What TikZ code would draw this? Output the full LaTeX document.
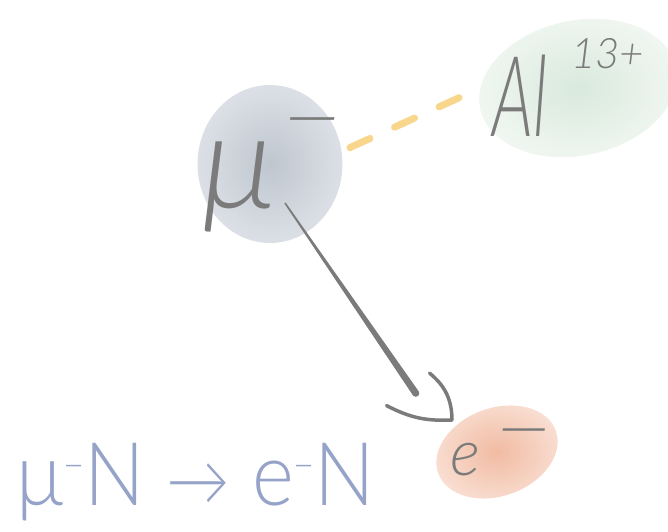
\documentclass[tikz,border=0pt]{standalone}
\usepackage{fontspec}
\setmainfont{Lato Light}
\newfontfamily\handfont{Lato Light}
\usetikzlibrary{shapes.geometric,calc}

\definecolor{mugrey}{HTML}{BFC6CF}
\definecolor{mugreyedge}{HTML}{DCE0E6}
\definecolor{alinner}{HTML}{D9E9DD}
\definecolor{alouter}{HTML}{F1F7F2}
\definecolor{elinner}{HTML}{F1BBA2}
\definecolor{elouter}{HTML}{F9DFD3}
\definecolor{inkgrey}{HTML}{7B7B7B}
\definecolor{dashyellow}{HTML}{F8D68C}
\definecolor{capblue}{HTML}{96A3C9}

\begin{document}
\begin{tikzpicture}[x=1pt,y=-1pt,
  blob/.style={ellipse,inner sep=0pt},
  ink/.style={text=inkgrey,inner sep=0pt,anchor=base west},
  hook/.style={draw=inkgrey,line width=3.5pt,line cap=round,line join=round},
  pairline/.style={draw=dashyellow,line width=7pt,line cap=round,dash pattern=on 22pt off 27pt}]
\useasboundingbox (0,0) rectangle (668,531);
% the three particles
\node[blob,minimum width=145pt,minimum height=158pt,inner color=mugrey,outer color=mugreyedge] (mu) at (270,164) {};
\node[blob,minimum width=200pt,minimum height=135pt,rotate=12,inner color=alinner,outer color=alouter] (al) at (578,88) {};
\node[blob,minimum width=125pt,minimum height=88pt,rotate=20,inner color=elinner,outer color=elouter] (el) at (497,452) {};
% handwritten labels
\node[ink,font=\handfont\fontsize{134}{134}\selectfont\itshape] (mulabel) at (202,208)
  {μ\hspace{6pt}\raisebox{64pt}{\scalebox{1.4}[1]{\fontsize{76}{76}\selectfont −}}};
\node[ink,font=\handfont\fontsize{112}{112}\selectfont\itshape] (allabel) at (492,136)
  {\scalebox{0.6}[1]{Al}\hspace{24pt}\raisebox{68pt}{\fontsize{42}{42}\selectfont 13+}};
\node[ink,font=\handfont\fontsize{64}{64}\selectfont\itshape] (ellabel) at (450,475)
  {e\hspace{14pt}\raisebox{22pt}{\scalebox{1.45}[1]{\fontsize{70}{70}\selectfont −}}};
% capture: dashed pairing, arrow to the electron
\draw[pairline,shorten <=9pt,shorten >=17pt] (mu.10) -- (al.168);
\coordinate (tail) at ($(mu)+(15,39)$);
\coordinate (tip) at ($(el)+(-45,-32)$);
\coordinate (shaftend) at ($(tip)!45pt!16:(tail)$);
\fill[inkgrey] ($(tail)!0.8pt!90:(shaftend)$) -- ($(shaftend)!3.5pt!-90:(tail)$) -- ($(shaftend)!3.5pt!90:(tail)$) -- ($(tail)!0.8pt!-90:(shaftend)$) -- cycle;
\fill[inkgrey] (shaftend) circle[radius=3.5pt];
\coordinate (arm1) at ($(tip)!52pt!-12:(tail)$);
\coordinate (arm2) at ($(tip)!67pt!40:(tail)$);
\draw[hook] (arm1) to[bend left=25] (tip) to[bend left=15] (arm2);
% reaction
\node[text=capblue,anchor=base west,inner sep=0pt,font=\fontsize{88}{88}\selectfont] (reaction) at (16,505)
  {\scalebox{0.91}[1]{μ\raisebox{26pt}{\fontsize{40}{40}\selectfont −}N {\fontsize{70}{70}\selectfont →} e\raisebox{26pt}{\fontsize{40}{40}\selectfont −}N}};
\end{tikzpicture}
\end{document}
